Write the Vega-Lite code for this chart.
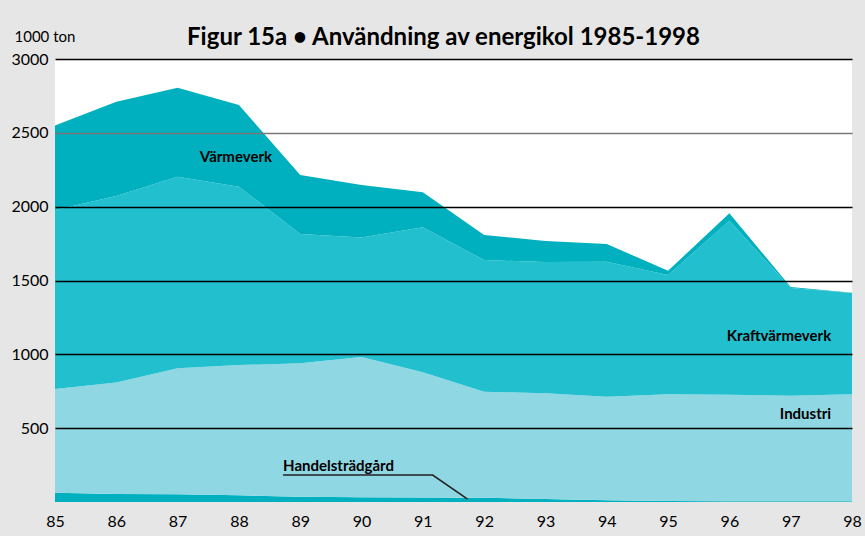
{
  "$schema": "https://vega.github.io/schema/vega-lite/v6.json",
  "autosize": {"type": "none"},
  "width": 797,
  "height": 443,
  "padding": {"left": 55, "top": 59, "right": 13, "bottom": 34},
  "background": "#E6E6E6",
  "config": {
    "view": {"fill": "white", "stroke": null},
    "font": "Lato"
  },
  "title": {
    "text": "Figur 15a • Användning av energikol 1985-1998",
    "font": "Lato",
    "fontSize": 24,
    "fontWeight": "bold",
    "color": "black",
    "anchor": "middle",
    "frame": "group",
    "dx": -10,
    "offset": -21
  },
  "datasets": {
    "kol": [
      {"year": 1985, "cat": "Handelsträdgård", "ord": 1, "v": 63},
      {"year": 1986, "cat": "Handelsträdgård", "ord": 1, "v": 55},
      {"year": 1987, "cat": "Handelsträdgård", "ord": 1, "v": 52},
      {"year": 1988, "cat": "Handelsträdgård", "ord": 1, "v": 45},
      {"year": 1989, "cat": "Handelsträdgård", "ord": 1, "v": 35},
      {"year": 1990, "cat": "Handelsträdgård", "ord": 1, "v": 33},
      {"year": 1991, "cat": "Handelsträdgård", "ord": 1, "v": 30},
      {"year": 1992, "cat": "Handelsträdgård", "ord": 1, "v": 28},
      {"year": 1993, "cat": "Handelsträdgård", "ord": 1, "v": 20},
      {"year": 1994, "cat": "Handelsträdgård", "ord": 1, "v": 12},
      {"year": 1995, "cat": "Handelsträdgård", "ord": 1, "v": 6},
      {"year": 1996, "cat": "Handelsträdgård", "ord": 1, "v": 5},
      {"year": 1997, "cat": "Handelsträdgård", "ord": 1, "v": 5},
      {"year": 1998, "cat": "Handelsträdgård", "ord": 1, "v": 5},
      {"year": 1985, "cat": "Industri", "ord": 2, "v": 702},
      {"year": 1986, "cat": "Industri", "ord": 2, "v": 755},
      {"year": 1987, "cat": "Industri", "ord": 2, "v": 853},
      {"year": 1988, "cat": "Industri", "ord": 2, "v": 882},
      {"year": 1989, "cat": "Industri", "ord": 2, "v": 905},
      {"year": 1990, "cat": "Industri", "ord": 2, "v": 949},
      {"year": 1991, "cat": "Industri", "ord": 2, "v": 848},
      {"year": 1992, "cat": "Industri", "ord": 2, "v": 719},
      {"year": 1993, "cat": "Industri", "ord": 2, "v": 716},
      {"year": 1994, "cat": "Industri", "ord": 2, "v": 701},
      {"year": 1995, "cat": "Industri", "ord": 2, "v": 723},
      {"year": 1996, "cat": "Industri", "ord": 2, "v": 721},
      {"year": 1997, "cat": "Industri", "ord": 2, "v": 715},
      {"year": 1998, "cat": "Industri", "ord": 2, "v": 725},
      {"year": 1985, "cat": "Kraftvärmeverk", "ord": 3, "v": 1212},
      {"year": 1986, "cat": "Kraftvärmeverk", "ord": 3, "v": 1262},
      {"year": 1987, "cat": "Kraftvärmeverk", "ord": 3, "v": 1298},
      {"year": 1988, "cat": "Kraftvärmeverk", "ord": 3, "v": 1208},
      {"year": 1989, "cat": "Kraftvärmeverk", "ord": 3, "v": 875},
      {"year": 1990, "cat": "Kraftvärmeverk", "ord": 3, "v": 810},
      {"year": 1991, "cat": "Kraftvärmeverk", "ord": 3, "v": 982},
      {"year": 1992, "cat": "Kraftvärmeverk", "ord": 3, "v": 891},
      {"year": 1993, "cat": "Kraftvärmeverk", "ord": 3, "v": 889},
      {"year": 1994, "cat": "Kraftvärmeverk", "ord": 3, "v": 914},
      {"year": 1995, "cat": "Kraftvärmeverk", "ord": 3, "v": 808},
      {"year": 1996, "cat": "Kraftvärmeverk", "ord": 3, "v": 1179},
      {"year": 1997, "cat": "Kraftvärmeverk", "ord": 3, "v": 729},
      {"year": 1998, "cat": "Kraftvärmeverk", "ord": 3, "v": 685},
      {"year": 1985, "cat": "Värmeverk", "ord": 4, "v": 573},
      {"year": 1986, "cat": "Värmeverk", "ord": 4, "v": 638},
      {"year": 1987, "cat": "Värmeverk", "ord": 4, "v": 602},
      {"year": 1988, "cat": "Värmeverk", "ord": 4, "v": 553},
      {"year": 1989, "cat": "Värmeverk", "ord": 4, "v": 399},
      {"year": 1990, "cat": "Värmeverk", "ord": 4, "v": 354},
      {"year": 1991, "cat": "Värmeverk", "ord": 4, "v": 237},
      {"year": 1992, "cat": "Värmeverk", "ord": 4, "v": 170},
      {"year": 1993, "cat": "Värmeverk", "ord": 4, "v": 142},
      {"year": 1994, "cat": "Värmeverk", "ord": 4, "v": 120},
      {"year": 1995, "cat": "Värmeverk", "ord": 4, "v": 29},
      {"year": 1996, "cat": "Värmeverk", "ord": 4, "v": 50},
      {"year": 1997, "cat": "Värmeverk", "ord": 4, "v": 7},
      {"year": 1998, "cat": "Värmeverk", "ord": 4, "v": 2}
    ],
    "labels": [
      {"label": "Värmeverk", "year": 1988.54, "v": 2336},
      {"label": "Kraftvärmeverk", "year": 1997.66, "v": 1124},
      {"label": "Industri", "year": 1997.66, "v": 596}
    ],
    "handel": [
      {"label": "Handelsträdgård", "year": 1988.72, "v": 246}
    ],
    "leader": [
      {"year": 1988.72, "v": 183, "seq": 1},
      {"year": 1991.16, "v": 183, "seq": 2},
      {"year": 1991.73, "v": 20, "seq": 3}
    ]
  },
  "layer": [
    {
      "data": {"name": "kol"},
      "mark": {"type": "area", "interpolate": "linear"},
      "encoding": {
        "x": {
          "field": "year", "type": "quantitative",
          "scale": {"domain": [1985, 1998], "nice": false, "zero": false},
          "axis": {
            "values": [1985, 1986, 1987, 1988, 1989, 1990, 1991, 1992, 1993, 1994, 1995, 1996, 1997, 1998],
            "labelExpr": "slice(toString(datum.value), 2)",
            "title": null, "grid": false, "domain": false, "ticks": false,
            "labelFont": "Lato", "labelFontSize": 16, "labelColor": "black",
            "labelPadding": 11, "labelFlush": false, "labelOverlap": false
          }
        },
        "y": {
          "field": "v", "type": "quantitative", "stack": "zero",
          "scale": {"domain": [0, 3000], "nice": false},
          "axis": {
            "values": [500, 1000, 1500, 2000, 2500, 3000],
            "format": "d",
            "title": "1000 ton",
            "titleAngle": 0, "titleX": -41, "titleY": -18,
            "titleAlign": "left", "titleBaseline": "alphabetic",
            "titleFont": "Lato", "titleFontSize": 15, "titleFontWeight": "normal", "titleColor": "black",
            "domain": false, "ticks": false,
            "labelFont": "Lato", "labelFontSize": 16, "labelColor": "black", "labelPadding": 7,
            "labelFlush": false,
            "grid": true,
            "gridColor": {"condition": {"test": "datum.value === 2500", "value": "#777777"}, "value": "#000000"},
            "gridWidth": 1.5,
            "zindex": 1
          }
        },
        "color": {
          "field": "cat", "type": "nominal",
          "scale": {
            "domain": ["Handelsträdgård", "Industri", "Kraftvärmeverk", "Värmeverk"],
            "range": ["#00B0BE", "#8FD7E3", "#22BFCF", "#00B0BE"]
          },
          "legend": null
        },
        "order": {"field": "ord", "type": "quantitative"}
      }
    },
    {
      "data": {"name": "labels"},
      "mark": {"type": "text", "font": "Lato", "fontSize": 15, "fontWeight": "bold", "color": "black", "baseline": "middle", "align": "right"},
      "encoding": {
        "x": {"field": "year", "type": "quantitative"},
        "y": {"field": "v", "type": "quantitative"},
        "text": {"field": "label"}
      }
    },
    {
      "data": {"name": "handel"},
      "mark": {"type": "text", "font": "Lato", "fontSize": 15, "fontWeight": "bold", "color": "black", "baseline": "middle", "align": "left"},
      "encoding": {
        "x": {"field": "year", "type": "quantitative"},
        "y": {"field": "v", "type": "quantitative"},
        "text": {"field": "label"}
      }
    },
    {
      "data": {"name": "leader"},
      "mark": {"type": "line", "color": "#222222", "strokeWidth": 1.6},
      "encoding": {
        "x": {"field": "year", "type": "quantitative"},
        "y": {"field": "v", "type": "quantitative"},
        "order": {"field": "seq", "type": "quantitative"}
      }
    }
  ]
}
